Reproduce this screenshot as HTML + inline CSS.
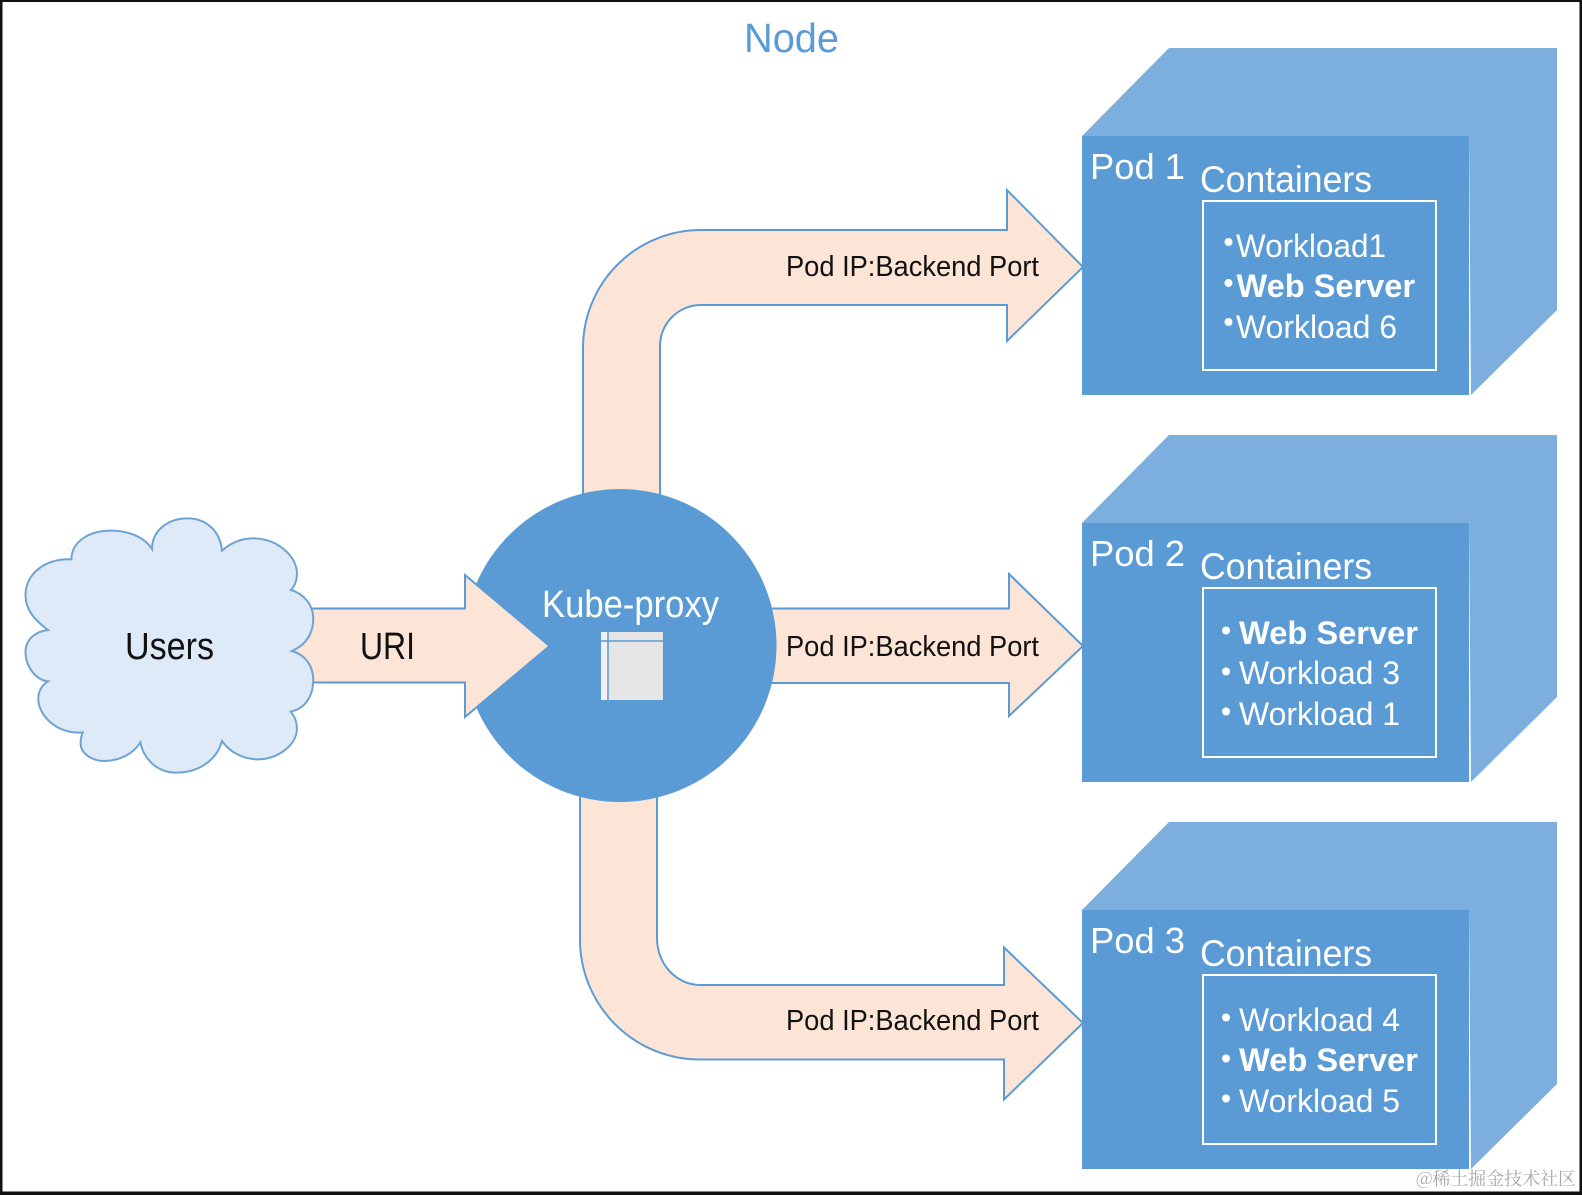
<!DOCTYPE html>
<html>
<head>
<meta charset="utf-8">
<style>
html,body{margin:0;padding:0;background:#fff;}
svg{display:block;}
text{font-family:"Liberation Sans","Noto Sans CJK SC",sans-serif;}
.w{fill:#fff;}
.a{fill:#fce4d6;stroke:#5b9bd5;stroke-width:2;stroke-linejoin:miter;}
.back{fill:#7cafde;}
.front{fill:#5b9bd5;}
.box{fill:none;stroke:#fff;stroke-width:2;}
</style>
</head>
<body>
<svg width="1582" height="1195" viewBox="0 0 1582 1195" xmlns="http://www.w3.org/2000/svg">
<rect width="1582" height="1195" fill="#fff"/>

<text x="744" y="52" font-size="41" fill="#5b9bd5" textLength="95" lengthAdjust="spacingAndGlyphs">Node</text>

<!-- arrows to pods -->
<path class="a" d="M583,494 V348 A118,118 0 0 1 701,230 H1007 V190 L1083,267 L1007,341 V305 H701 A41,41 0 0 0 660,346 V496 Z"/>
<path class="a" d="M770,608.500 H1009 V574 L1083,646 L1009,716 V683 H770 Z"/>
<path class="a" d="M580,795 V939 A120,120 0 0 0 700,1059.500 H1004 V1099.500 L1083,1023 L1004,947.500 V985 H700 A43,47 0 0 1 657,938 V795 Z"/>

<!-- kube-proxy -->
<circle cx="620" cy="645.5" r="156.5" fill="#5b9bd5"/>
<text x="542" y="617" font-size="38" class="w" textLength="177" lengthAdjust="spacingAndGlyphs">Kube-proxy</text>
<rect x="601" y="632" width="62" height="68" fill="#e7e6e6"/>
<rect x="601" y="632" width="7" height="68" fill="#f2f2f2"/>
<line x1="601" y1="641" x2="663" y2="641" stroke="#5b9bd5" stroke-width="1.5"/>
<line x1="608" y1="632" x2="608" y2="700" stroke="#5b9bd5" stroke-width="1.5"/>

<!-- URI arrow -->
<path class="a" d="M290,608.500 H465 V575 L549.500,646 L465,717 V682.500 H290 Z"/>
<text x="360" y="659" font-size="38" fill="#111" textLength="55" lengthAdjust="spacingAndGlyphs">URI</text>

<!-- cloud -->
<g transform="translate(0,480) scale(0.5102,0.33333)">
<path fill="#deeaf7" stroke="#6ea3d3" stroke-width="2" vector-effect="non-scaling-stroke" d="M140,238 C140,190 170,152 218,152 C255,152 285,175 298,207 C298,150 330,115 368,115 C405,115 432,155 435,212 C450,192 470,175 495,175 C545,175 582,230 582,280 C582,300 578,318 570,330 C595,340 614,375 614,415 C614,460 600,495 572,513 C600,525 614,560 614,600 C614,645 600,685 570,695 C578,710 582,725 582,745 C582,795 545,838 505,838 C475,838 450,815 435,783 C425,840 390,878 345,878 C310,878 282,840 275,787 C262,820 235,843 205,843 C180,843 158,820 158,790 C158,778 160,765 162,757 C115,765 75,710 75,655 C75,635 82,615 94,604 C70,600 50,560 50,515 C50,480 68,455 94,450 C68,420 50,390 50,345 C50,285 85,235 140,238 Z"/>
</g>
<text x="125" y="659" font-size="38" fill="#111" textLength="89" lengthAdjust="spacingAndGlyphs">Users</text>

<!-- arrow labels -->
<text x="786" y="276" font-size="29" fill="#111" textLength="253" lengthAdjust="spacingAndGlyphs">Pod IP:Backend Port</text>
<text x="786" y="656" font-size="29" fill="#111" textLength="253" lengthAdjust="spacingAndGlyphs">Pod IP:Backend Port</text>
<text x="786" y="1030" font-size="29" fill="#111" textLength="253" lengthAdjust="spacingAndGlyphs">Pod IP:Backend Port</text>

<!-- Pod 1 -->
<polygon class="back" points="1082,136 1169,48 1557,48 1557,310 1471,395 1469,136"/>
<rect class="front" x="1082" y="136" width="387" height="259"/>
<text x="1090" y="179" font-size="36" class="w" textLength="95" lengthAdjust="spacingAndGlyphs">Pod 1</text>
<text x="1200" y="192" font-size="37" class="w" textLength="172" lengthAdjust="spacingAndGlyphs">Containers</text>
<rect class="box" x="1203" y="201" width="233" height="169"/>
<circle class="w" cx="1228.500" cy="242" r="4"/><circle class="w" cx="1228.500" cy="283" r="4"/><circle class="w" cx="1228.500" cy="322" r="4"/>
<text x="1236" y="257" font-size="32" class="w" textLength="150" lengthAdjust="spacingAndGlyphs">Workload1</text>
<text x="1236.500" y="297" font-size="32" font-weight="bold" class="w" textLength="178.500" lengthAdjust="spacingAndGlyphs">Web Server</text>
<text x="1236" y="338" font-size="32" class="w" textLength="161" lengthAdjust="spacingAndGlyphs">Workload 6</text>

<!-- Pod 2 -->
<polygon class="back" points="1082,523 1169,435 1557,435 1557,697 1471,782 1469,523"/>
<rect class="front" x="1082" y="523" width="387" height="259"/>
<text x="1090" y="566" font-size="36" class="w" textLength="95" lengthAdjust="spacingAndGlyphs">Pod 2</text>
<text x="1200" y="579" font-size="37" class="w" textLength="172" lengthAdjust="spacingAndGlyphs">Containers</text>
<rect class="box" x="1203" y="588" width="233" height="169"/>
<circle class="w" cx="1226" cy="630.500" r="4"/><circle class="w" cx="1226" cy="671.500" r="4"/><circle class="w" cx="1226" cy="711.500" r="4"/>
<text x="1239" y="644" font-size="32" font-weight="bold" class="w" textLength="179" lengthAdjust="spacingAndGlyphs">Web Server</text>
<text x="1239" y="684" font-size="32" class="w" textLength="161" lengthAdjust="spacingAndGlyphs">Workload 3</text>
<text x="1239" y="725" font-size="32" class="w" textLength="161" lengthAdjust="spacingAndGlyphs">Workload 1</text>

<!-- Pod 3 -->
<polygon class="back" points="1082,910 1169,822 1557,822 1557,1084 1471,1169 1469,910"/>
<rect class="front" x="1082" y="910" width="387" height="259"/>
<text x="1090" y="953" font-size="36" class="w" textLength="95" lengthAdjust="spacingAndGlyphs">Pod 3</text>
<text x="1200" y="966" font-size="37" class="w" textLength="172" lengthAdjust="spacingAndGlyphs">Containers</text>
<rect class="box" x="1203" y="975" width="233" height="169"/>
<circle class="w" cx="1226" cy="1017.500" r="4"/><circle class="w" cx="1226" cy="1058.500" r="4"/><circle class="w" cx="1226" cy="1098.500" r="4"/>
<text x="1239" y="1031" font-size="32" class="w" textLength="161" lengthAdjust="spacingAndGlyphs">Workload 4</text>
<text x="1239" y="1071" font-size="32" font-weight="bold" class="w" textLength="179" lengthAdjust="spacingAndGlyphs">Web Server</text>
<text x="1239" y="1112" font-size="32" class="w" textLength="161" lengthAdjust="spacingAndGlyphs">Workload 5</text>

<!-- watermark -->
<text x="1416" y="1185" font-size="18" fill="#a9a9a9" style="font-family:'Noto Serif CJK SC','Liberation Serif',serif" textLength="160">@稀土掘金技术社区</text>

<!-- frame -->
<rect x="0" y="0" width="1582" height="2" fill="#111"/>
<rect x="0" y="0" width="2.5" height="1195" fill="#111"/>
<rect x="1579.5" y="0" width="2.5" height="1195" fill="#111"/>
<rect x="0" y="1191.5" width="1582" height="3.5" fill="#111"/>
</svg>
</body>
</html>
